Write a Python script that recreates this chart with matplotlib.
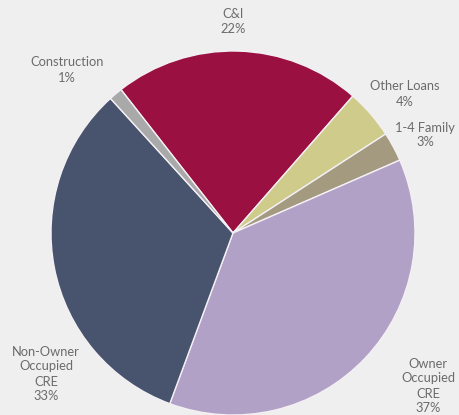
import matplotlib
matplotlib.use("Agg")
import matplotlib.pyplot as plt

categories = ["C&I", "Other Loans", "1-4 Family", "Owner\nOccupied\nCRE", "Non-Owner\nOccupied\nCRE", "Construction"]
values = [22.0, 4.4, 2.6, 37.2, 32.6, 1.2]
colors = ["#9a1041", "#cfcb8b", "#a39a7f", "#b2a1c7", "#48546e", "#a9a9a9"]
label_pos = [(233, 22), (405, 94), (425, 135), (428, 386), (46, 374), (67, 70)]

W, H = 459, 415
fig = plt.figure(figsize=(W / 100, H / 100), dpi=100)
fig.patch.set_facecolor("#efefef")
ax = fig.add_axes([0, 0, 1, 1])
ax.set_facecolor("#efefef")

cx, cy, r = 233, H - 233, 182
ax.pie(values, colors=colors, startangle=128, counterclock=False,
       center=(cx, cy), radius=r, frame=True,
       wedgeprops=dict(edgecolor="#f4f0f4", linewidth=1.0))
ax.set_xlim(0, W)
ax.set_ylim(0, H)
ax.set_aspect("equal")
ax.axis("off")

for cat, v, (px, py) in zip(categories, values, label_pos):
    ax.text(px, H - py, f"{cat}\n{round(v)}%", ha="center", va="center",
            fontsize=9.3, color="#6b6b6b", family="Lato", fontweight="normal",
            linespacing=1.3)

fig.savefig("out.png", dpi=100, facecolor=fig.get_facecolor())
